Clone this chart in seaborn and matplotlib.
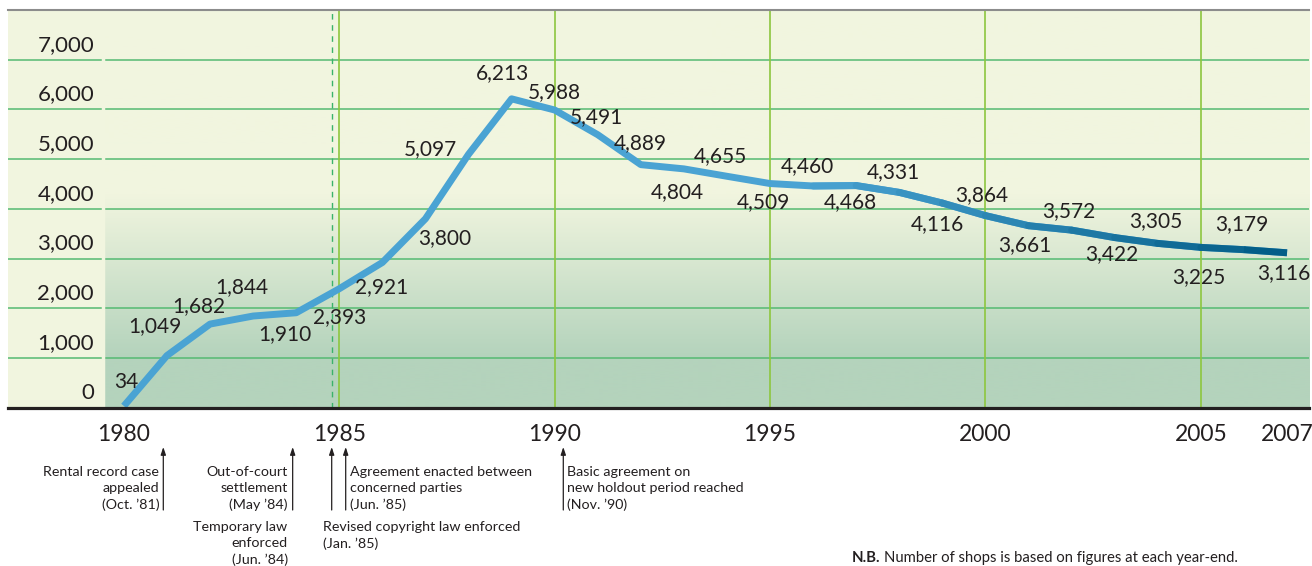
import matplotlib
matplotlib.use("Agg")
import matplotlib.pyplot as plt
import matplotlib.transforms as mtransforms
from matplotlib.collections import LineCollection
from matplotlib.colors import to_rgb
import numpy as np
import seaborn as sns

# number of rental record shops at each year-end
years = list(range(1980, 2008))
shops = [34, 1049, 1682, 1844, 1910, 2393, 2921, 3800, 5097, 6213, 5988, 5491,
         4889, 4804, 4655, 4509, 4460, 4468, 4331, 4116, 3864, 3661, 3572, 3422,
         3305, 3225, 3179, 3116]

y_ticks = [0, 1000, 2000, 3000, 4000, 5000, 6000, 7000]
x_ticks = [1980, 1985, 1990, 1995, 2000, 2005, 2007]
grid_years = [1985, 1990, 1995, 2000, 2005]

# events under the axis: (position on time axis, text)
event_x = [1980.915, 1983.918, 1984.824, 1985.149, 1990.20]
event_text = [
    "Rental record case\nappealed\n(Oct. \u201981)",
    "Out-of-court\nsettlement\n(May \u201984)",
    "Revised copyright law enforced\n(Jan. \u201985)",
    "Agreement enacted between\nconcerned parties\n(Jun. \u201985)",
    "Basic agreement on\nnew holdout period reached\n(Nov. \u201990)",
]
extra_note = "Temporary law\nenforced\n(Jun. \u201984)"
footnote_bold = "N.B."
footnote = "Number of shops is based on figures at each year-end."

# label placement (pixels from the point)
label_offsets = [(2, 24), (-12, 29), (-11, 18), (-11, 29), (-11, -21), (0, -28),
                 (-1, -25), (19, -19), (-38, 5), (-9, 26), (0, 18), (-1, 18),
                 (-1, 22), (-7, -23), (-7, 20), (-7, -19), (-6, 20), (-6, -17),
                 (-6, 20), (-5, -21), (-4, 21), (-4, -19), (-3, 19), (-3, -17),
                 (-2, 22), (-2, -30), (-2, 26), (-3, -20)]
# text layout for the events: (ha, dx px, top y px)
event_style = [("right", -4, 466), ("right", -5, 466), ("left", -9, 521),
               ("left", 4, 466), ("left", 4, 466)]

sns.set_style("white")
plt.rcParams["font.family"] = ["Lato", "DejaVu Sans"]

ink = "#231f20"
cream = "#f1f5df"
green = "#b4d3bc"
line_start = "#4aa3d3"
line_end = "#005b84"

W, H = 1312, 566
fig = plt.figure(figsize=(W / 100, H / 100), dpi=100)
ax = fig.add_axes([8 / W, 1 - 407.7 / H, 1301 / W, 397.7 / H])
ax.set_facecolor(cream)

# green gradient in the lower part of the plot
gy = np.linspace(0, 8000, 401)
t = np.clip((gy - 1000) / 3300, 0, 1)
img = (np.array(to_rgb(green))[None, :] * (1 - t[:, None])
       + np.array(to_rgb(cream))[None, :] * t[:, None])[:, None, :]
ax.imshow(img, extent=[1979.56, 2007.51, 0, 8000], origin="lower",
          aspect="auto", zorder=0, interpolation="bilinear")

ax.set_xlim(1977.31, 2007.51)
ax.set_ylim(0, 8000)

ax.set_axisbelow(True)
ax.yaxis.grid(True, color="#55ba72", lw=1.1)
ax.axvline(1979.526, color=cream, lw=2.5, zorder=1)
for yr in grid_years:
    ax.axvline(yr, color="#8dc63f", lw=1.2, zorder=1.2)
ax.axvline(event_x[2], color="#3ab36a", lw=1.0, ls=(0, (4, 4)), zorder=1.2)

# main line, darker towards the end
sns.lineplot(x=years, y=shops, ax=ax, color=line_start, lw=5,
             solid_capstyle="butt", solid_joinstyle="round", zorder=3)
pts = np.column_stack([years, shops])
segs = np.stack([pts[:-1], pts[1:]], axis=1)
mid = (np.array(years[:-1]) + np.array(years[1:])) / 2
tt = np.clip((mid - 1996) / 11, 0, 1)[:, None]
cols = np.array(to_rgb(line_start)) * (1 - tt) + np.array(to_rgb(line_end)) * tt
dark = mid > 1996
lc = LineCollection(segs[dark][:-1], colors=cols[dark][:-1], lw=5,
                    capstyle="round", zorder=3.1)
ax.add_collection(lc)
ax.plot(segs[-1][:, 0], segs[-1][:, 1], color=cols[-1], lw=5,
        solid_capstyle="butt", zorder=3.2)

for yr, v, (dx, dy) in zip(years, shops, label_offsets):
    ax.annotate(f"{v:,}", (yr, v), xytext=(dx, dy), textcoords="offset pixels",
                ha="center", va="center", fontsize=15, color=ink, zorder=5)

for side in ["left", "right"]:
    ax.spines[side].set_visible(False)
ax.spines["top"].set_color("#8c8c8c")
ax.spines["top"].set_linewidth(1.5)
ax.spines["bottom"].set_color(ink)
ax.spines["bottom"].set_linewidth(2.3)
ax.spines["bottom"].set_zorder(4)

ax.set_yticks(y_ticks, labels=[f"{v:,}" for v in y_ticks])
ax.set_xticks(x_ticks, labels=[str(v) for v in x_ticks])
ax.tick_params(axis="y", length=0, pad=-62, labelsize=16, labelcolor=ink)
ax.tick_params(axis="x", length=0, pad=12, labelsize=16.5, labelcolor=ink)
for lbl in ax.get_yticklabels():
    lbl.set_transform(lbl.get_transform()
                      + mtransforms.ScaledTranslation(0, 0.17, fig.dpi_scale_trans))

# events below the axis
trans = mtransforms.blended_transform_factory(ax.transData, fig.transFigure)


def fy(py):
    return 1 - py / H


for x, txt, (ha, dx, top) in zip(event_x, event_text, event_style):
    ax.annotate("", xy=(x, fy(447)), xycoords=trans, xytext=(x, fy(510)),
                textcoords=trans, annotation_clip=False,
                arrowprops=dict(arrowstyle="-|>,head_length=0.45,head_width=0.15",
                                color=ink, lw=0.9, shrinkA=0, shrinkB=0))
    ax.text(x, fy(top), txt, ha=ha, va="top", fontsize=10.3, linespacing=1.4,
            color=ink,
            transform=mtransforms.offset_copy(trans, fig=fig, x=dx, y=0, units="dots"))
ax.text(event_x[1], fy(521), extra_note, ha="right", va="top", fontsize=10.3,
        linespacing=1.4, color=ink,
        transform=mtransforms.offset_copy(trans, fig=fig, x=-5, y=0, units="dots"))

nb = fig.text(852 / W, fy(565), footnote_bold, fontsize=10.7, fontweight="bold",
              color=ink, va="bottom")
ax.annotate(footnote, xy=(1, 0), xycoords=nb, xytext=(4, 0),
            textcoords="offset pixels", va="bottom", ha="left", fontsize=10.7,
            color=ink, annotation_clip=False)

fig.savefig("out.png", dpi=100, facecolor="white")
